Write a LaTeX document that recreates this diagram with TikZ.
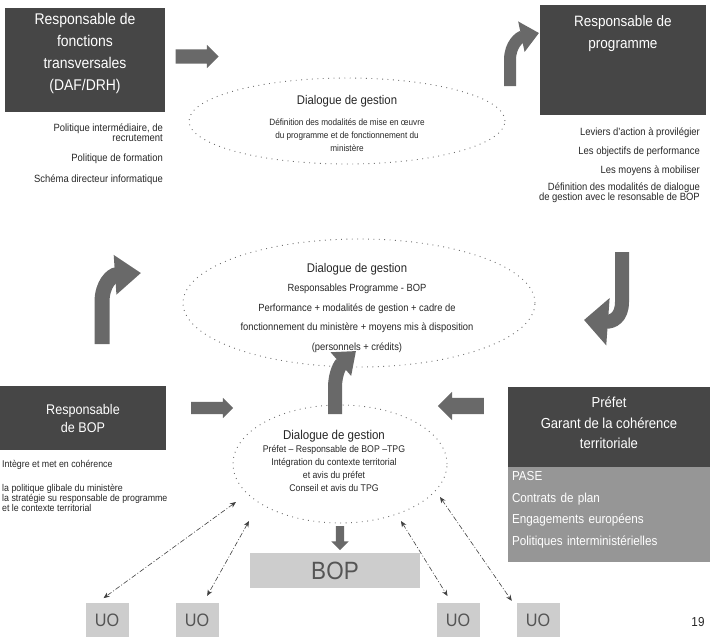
\documentclass[tikz,border=0pt]{standalone}
\usepackage{fontspec}
\setmainfont{Liberation Sans}[FakeStretch=0.9]
\usetikzlibrary{positioning, shapes.arrows, shapes.geometric, arrows.meta}
\definecolor{darkbox}{RGB}{70,70,70}
\definecolor{midbox}{RGB}{150,150,150}
\definecolor{lightbox}{RGB}{205,205,205}
\definecolor{arrowgray}{RGB}{105,105,105}
\definecolor{dotgray}{RGB}{110,110,110}
\definecolor{unitgray}{RGB}{85,85,85}
\tikzstyle{actor}=[rectangle, fill=darkbox, text=white, align=center, inner sep=0pt]
\tikzstyle{dialog}=[ellipse, draw=dotgray, line width=.9pt, dash pattern=on .9pt off 4.5pt, inner sep=0pt]
\tikzstyle{talk}=[align=center, inner sep=0pt, text=black!85]
\tikzstyle{note}=[inner sep=0pt, text=black!85, font=\fontsize{10.5}{10}\selectfont]
\tikzstyle{blockarrow}=[single arrow, fill=arrowgray, inner xsep=0pt]
\tikzstyle{turn}=[draw=arrowgray]
\tikzstyle{unit}=[rectangle, fill=lightbox, text=unitgray, inner sep=0pt]
\tikzstyle{link}=[draw=black!75, line width=.6pt, dash pattern=on 5pt off 2pt on 1pt off 2pt, {Stealth[length=6pt,width=5pt]}-{Stealth[length=6pt,width=5pt]}]

\begin{document}
\begin{tikzpicture}[x=1pt, y=-1pt]
\useasboundingbox (0,0) rectangle (713,637);
% responsable de fonctions transversales
\node[actor, minimum width=160pt, minimum height=104pt](rft) at (85,60){};
\node[actor, below=5pt of rft.north, font=\fontsize{15.5}{22}\selectfont](rft text){Responsable de\\fonctions\\transversales\\(DAF/DRH)};
\node[note, anchor=north east, align=right](pol1) at (163,124){Politique intermédiaire, de\\recrutement};
\node[note, below left=11pt and 0pt of pol1.south east](pol2){Politique de formation};
\node[note, below left=11pt and 0pt of pol2.south east](pol3){Schéma directeur informatique};
\node[blockarrow, minimum height=43pt, inner ysep=7pt, single arrow head extend=4.5pt](a1) at (193.5,56.5){};

% responsable de programme
\node[actor, minimum width=166pt, minimum height=110pt](rp) at (623,60){};
\node[actor, below=11pt of rp.north, font=\fontsize{15}{22}\selectfont](rp text){Responsable de\\programme};
\draw[turn, line width=12pt, -{Triangle[length=18pt, width=30pt]}] (510,86) -- (510,60) .. controls (510,44) and (520,37) .. (539,33);
\node[note, anchor=north east](lev) at (700,128){Leviers d'action à provilégier};
\node[note, below left=8.5pt and 0pt of lev.south east](obj){Les objectifs de performance};
\node[note, below left=8.5pt and 0pt of obj.south east](moy){Les moyens à mobiliser};
\node[note, below left=7pt and 0pt of moy.south east, align=right](mod){Définition des modalités de dialogue\\de gestion avec le resonsable de BOP};

% dialogue 1
\node[dialog, minimum width=316pt, minimum height=86pt](dlg1) at (347,121){};
\node[talk, font=\fontsize{9.1}{13}\selectfont](dlg1 text) at (347,123){{\fontsize{12.6}{13}\selectfont Dialogue de gestion}\\[8pt]Définition des modalités de mise en œuvre\\du programme et de fonctionnement du\\ministère};

% dialogue 2
\node[dialog, minimum width=352pt, minimum height=128pt](dlg2) at (359,303){};
\node[talk, font=\fontsize{10.4}{19.5}\selectfont](dlg2 text) at (357,308){{\fontsize{12.6}{19.5}\selectfont Dialogue de gestion}\\Responsables Programme - BOP\\Performance + modalités de gestion + cadre de\\fonctionnement du ministère + moyens mis à disposition\\(personnels + crédits)};
\draw[turn, line width=15pt, -{Triangle[length=26pt, width=38pt]}] (102,344) -- (102,302) .. controls (102,284) and (112,275) .. (141,273);
\draw[turn, line width=14pt, -{Triangle[length=24pt, width=46pt]}] (622,252) -- (622,302) .. controls (622,318) and (612,322) .. (584,320);

% responsable de BOP
\node[actor, minimum width=166pt, minimum height=64pt, font=\fontsize{14}{18}\selectfont](rbop) at (83,418){Responsable\\de BOP};
\node[note, anchor=north west, font=\fontsize{9.8}{10}\selectfont](intg) at (2,460){Intègre et met en cohérence};
\node[note, below right=14pt and 0pt of intg.south west, align=left, font=\fontsize{9.8}{10}\selectfont](glob){la politique glibale du ministère\\la stratégie su responsable de programme\\et le contexte territorial};
\node[blockarrow, minimum height=42pt, inner ysep=6pt, single arrow head extend=4pt](a2) at (209,408){};

% dialogue 3
\node[dialog, minimum width=214pt, minimum height=118pt](dlg3) at (340,464){};
\node[talk, font=\fontsize{9.7}{13}\selectfont](dlg3 text) at (334,461){{\fontsize{12.8}{13}\selectfont Dialogue de gestion}\\Préfet – Responsable de BOP –TPG\\Intégration du contexte territorial\\et avis du préfet\\Conseil et avis du TPG};
\draw[turn, line width=14pt, -{Triangle[length=20pt, width=30pt]}] (335,414) -- (335,388) .. controls (335,372) and (341,364) .. (356,351);

% prefet
\node[actor, minimum width=202pt, minimum height=80pt](prefet) at (609,427){};
\node[actor, font=\fontsize{14.5}{20.5}\selectfont](prefet text) at (609,423){Préfet\\Garant de la cohérence\\territoriale};
\node[actor, fill=midbox, below=0pt of prefet, minimum width=202pt, minimum height=95pt](prefet box){};
\node[actor, fill=midbox, text width=194pt, align=left, font=\fontsize{13}{21.5}\selectfont](prefet list) at (609,510){PASE\\Contrats de plan\\Engagements européens\\Politiques interministérielles};
\node[blockarrow, rotate=180, minimum height=46pt, inner ysep=8pt, single arrow head extend=6pt](a3) at (465,406){};

% BOP et UO
\node[blockarrow, rotate=-90, minimum height=24pt, inner ysep=4pt, single arrow head extend=4.5pt](a4) at (340,536){};
\node[unit, minimum width=170pt, minimum height=35pt, font=\fontsize{25}{25}\selectfont](bop) at (335,570.5){BOP};
\foreach \n/\x in {1/107, 2/197, 3/458, 4/538}{
  \node[unit, minimum width=43pt, minimum height=34pt, font=\fontsize{18}{18}\selectfont](uo\n) at (\x,620){UO};
}
\coordinate (d1) at (236,502);
\coordinate (d2) at (249,521);
\coordinate (d3) at (401,521);
\coordinate (d4) at (440,497);
\draw[link, shorten >=8pt] (d1) -- (uo1.120);
\draw[link, shorten >=8pt] (d2) -- (uo2.70);
\draw[link, shorten >=8pt] (d3) -- (uo3.110);
\draw[link, shorten >=8pt] (d4) -- (uo4.150);

\node[inner sep=0pt, font=\fontsize{13}{13}\selectfont, text=black!85](page) at (698,622){19};
\end{tikzpicture}
\end{document}
